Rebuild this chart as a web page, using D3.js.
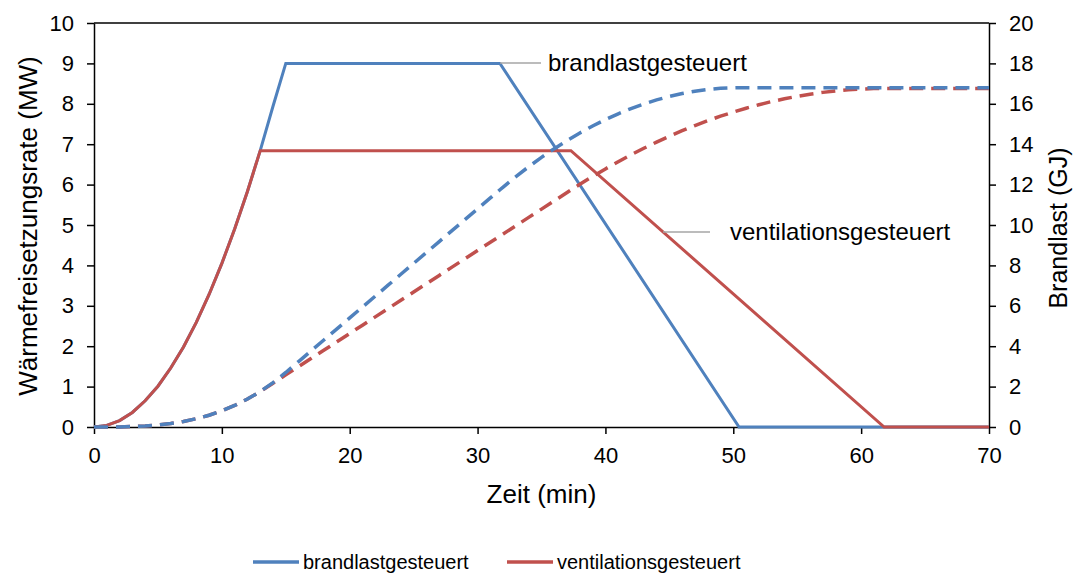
<!DOCTYPE html>
<html>
<head>
<meta charset="utf-8">
<script src="https://cdn.jsdelivr.net/npm/d3@7"></script>
<style>
  body { margin: 0; background: #fff; }
  svg text { font-family: "Liberation Sans", Arial, sans-serif; fill: #000; }
</style>
</head>
<body>
<svg id="chart"></svg>
<script>
//Chart size
var w = 1074, h = 574;
var margin = {top: 23, right: 85, bottom: 147, left: 94};

//Series names
var seriesNames = ["brandlastgesteuert", "ventilationsgesteuert"];
var seriesColors = ["#4F81BD", "#C0504D"];

//Heat release rate (MW) - brandlastgesteuert
var hrrTimeA = [0,1,2,3,4,5,6,7,8,9,10,11,12,13,14,15,31.75,50.45,70];
var hrrA = [0,0.04,0.16,0.36,0.65,1.01,1.46,1.98,2.59,3.28,4.05,4.9,5.83,6.84,7.94,9.0,9.0,0,0];

//Heat release rate (MW) - ventilationsgesteuert
var hrrTimeB = [0,1,2,3,4,5,6,7,8,9,10,11,12,13,37.3,61.8,70];
var hrrB = [0,0.04,0.16,0.36,0.65,1.01,1.46,1.98,2.59,3.28,4.05,4.9,5.83,6.84,6.84,0,0];

//Fire load released (GJ) - brandlastgesteuert
var energyTimeA = [0,1,2,3,4,5,6,7,8,9,10,11,12,13,14,15,16,17,18,19,20,21,22,23,24,25,26,27,28,29,30,31,31.75,
  32,33,34,35,36,37,38,39,40,41,42,43,44,45,46,47,48,49,50,50.45,70];
var energyA = [0,0.001,0.006,0.022,0.051,0.1,0.173,0.274,0.41,0.583,0.8,1.065,1.382,1.758,2.195,2.7,3.24,3.78,4.32,4.86,
  5.4,5.94,6.48,7.02,7.56,8.1,8.64,9.18,9.72,10.26,10.8,11.34,11.745,
  11.879,12.397,12.887,13.348,13.779,14.182,14.556,14.901,15.217,15.505,15.763,15.993,16.193,16.365,16.508,16.622,16.707,16.764,16.791,16.8,16.8];

//Fire load released (GJ) - ventilationsgesteuert
var energyTimeB = [0,1,2,3,4,5,6,7,8,9,10,11,12,13,14,15,16,17,18,19,20,21,22,23,24,25,26,27,28,29,30,31,32,33,34,35,36,37,37.3,
  38,39,40,41,42,43,44,45,46,47,48,49,50,51,52,53,54,55,56,57,58,59,60,61,61.8,70];
var energyB = [0,0.001,0.006,0.022,0.051,0.1,0.173,0.274,0.41,0.583,0.8,1.065,1.382,1.758,2.168,2.579,2.989,3.4,3.81,4.22,
  4.631,5.041,5.452,5.862,6.273,6.683,7.093,7.504,7.914,8.325,8.735,9.145,9.556,9.966,10.377,10.787,11.198,11.608,11.731,
  12.014,12.404,12.778,13.135,13.475,13.798,14.105,14.394,14.667,14.924,15.164,15.386,15.592,15.782,15.954,16.11,16.249,
  16.371,16.476,16.566,16.637,16.693,16.731,16.753,16.758,16.758];

//Tick values
var xTicks = [0,10,20,30,40,50,60,70];
var yLeftTicks = [0,1,2,3,4,5,6,7,8,9,10];
var yRightTicks = [0,2,4,6,8,10,12,14,16,18,20];

//Labels
var xTitle = "Zeit (min)";
var yLeftTitle = "Wärmefreisetzungsrate (MW)";
var yRightTitle = "Brandlast (GJ)";

var svg = d3.select("#chart").attr("width", w).attr("height", h);

var x0 = margin.left, x1 = w - margin.right;
var y0 = h - margin.bottom, y1 = margin.top;

var x = d3.scaleLinear().domain([0, 70]).range([x0, x1]);
var yL = d3.scaleLinear().domain([0, 10]).range([y0, y1]);
var yR = d3.scaleLinear().domain([0, 20]).range([y0, y1]);

//Top border of the plot area
svg.append("line")
  .attr("x1", x0).attr("x2", x1)
  .attr("y1", y1).attr("y2", y1)
  .attr("stroke", "#000").attr("stroke-width", 1.5);

//Axes
function styleAxis(g, fs) {
  g.selectAll("path").attr("stroke", "#000").attr("stroke-width", 1.5);
  g.selectAll("line").attr("stroke", "#000").attr("stroke-width", 1.5);
  g.selectAll("text").attr("font-size", fs).attr("font-family", null).attr("fill", "#000");
}

var xAxis = svg.append("g")
  .attr("transform", "translate(0," + y0 + ")")
  .call(d3.axisBottom(x).tickValues(xTicks).tickSize(7).tickSizeOuter(0).tickPadding(13));
styleAxis(xAxis, 22);

var yAxisL = svg.append("g")
  .attr("transform", "translate(" + x0 + ",0)")
  .call(d3.axisLeft(yL).tickValues(yLeftTicks).tickSize(7).tickSizeOuter(0).tickPadding(13));
styleAxis(yAxisL, 22);

var yAxisR = svg.append("g")
  .attr("transform", "translate(" + x1 + ",0)")
  .call(d3.axisRight(yR).tickValues(yRightTicks).tickSize(7).tickSizeOuter(0).tickPadding(13));
styleAxis(yAxisR, 22);

//Axis titles
svg.append("text")
  .attr("x", (x0 + x1) / 2).attr("y", 503)
  .attr("text-anchor", "middle")
  .attr("font-size", 26)
  .text(xTitle);

svg.append("text")
  .attr("transform", "translate(37,226) rotate(-90)")
  .attr("text-anchor", "middle")
  .attr("font-size", 26)
  .text(yLeftTitle);

svg.append("text")
  .attr("transform", "translate(1067,228) rotate(-90)")
  .attr("text-anchor", "middle")
  .attr("font-size", 25)
  .text(yRightTitle);

//Line series
var lineL = d3.line().x(d => x(d[0])).y(d => yL(d[1]));
var lineR = d3.line().x(d => x(d[0])).y(d => yR(d[1]));

function pairs(ts, vs) { return ts.map((t, i) => [t, vs[i]]); }

svg.append("path")
  .datum(pairs(hrrTimeA, hrrA))
  .attr("d", lineL)
  .attr("fill", "none").attr("stroke", seriesColors[0]).attr("stroke-width", 3);

svg.append("path")
  .datum(pairs(hrrTimeB, hrrB))
  .attr("d", lineL)
  .attr("fill", "none").attr("stroke", seriesColors[1]).attr("stroke-width", 3);

svg.append("path")
  .datum(pairs(energyTimeB, energyB))
  .attr("d", lineR)
  .attr("fill", "none").attr("stroke", seriesColors[1]).attr("stroke-width", 3.5)
  .attr("stroke-dasharray", "14,8");

svg.append("path")
  .datum(pairs(energyTimeA, energyA))
  .attr("d", lineR)
  .attr("fill", "none").attr("stroke", seriesColors[0]).attr("stroke-width", 3.5)
  .attr("stroke-dasharray", "14,8");

//Annotations with grey leader lines
var notes = [
  {name: seriesNames[0], lx1: 500, lx2: 541, y: 63, tx: 548},
  {name: seriesNames[1], lx1: 663, lx2: 710, y: 232, tx: 730}
];
notes.forEach(n => {
  svg.append("line")
    .attr("x1", n.lx1).attr("x2", n.lx2)
    .attr("y1", n.y).attr("y2", n.y)
    .attr("stroke", "#A6A6A6").attr("stroke-width", 1.5);
  svg.append("text")
    .attr("x", n.tx).attr("y", n.y)
    .attr("dy", "0.35em")
    .attr("font-size", 24)
    .text(n.name);
});

//Legend
var legendX = [253, 507];
seriesNames.forEach((name, i) => {
  var g = svg.append("g").attr("transform", "translate(" + legendX[i] + ",562)");
  g.append("line").attr("x1", 0).attr("x2", 46).attr("y1", 0).attr("y2", 0)
    .attr("stroke", seriesColors[i]).attr("stroke-width", 3.5);
  g.append("text").attr("x", 50).attr("dy", "0.35em")
    .attr("font-size", 20)
    .text(name);
});
</script>
</body>
</html>
